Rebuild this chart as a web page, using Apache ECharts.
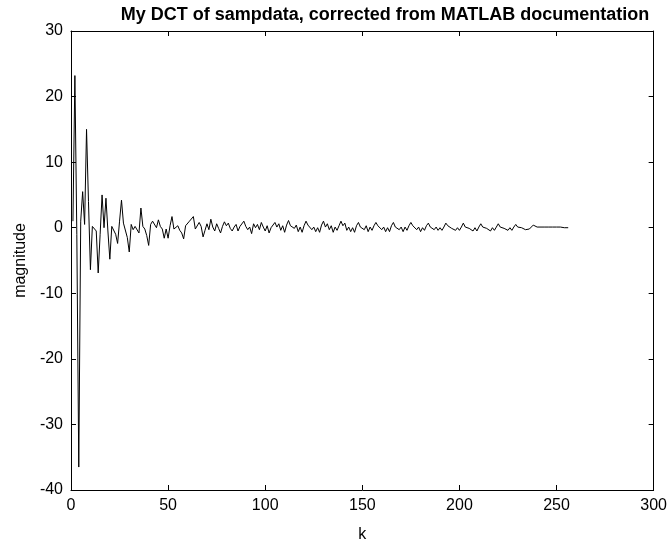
<!DOCTYPE html>
<html>
<head>
<meta charset="utf-8">
<script src="https://cdn.jsdelivr.net/npm/echarts@6/dist/echarts.min.js"></script>
<style>html,body{margin:0;padding:0;background:#fff}#c{width:670px;height:548px}</style>
</head>
<body>
<div id="c"></div>
<script>
const titleText = "My DCT of sampdata, corrected from MATLAB documentation";
const xLabel = "k";
const yLabel = "magnitude";
const xTicks = [0, 50, 100, 150, 200, 250, 300];
const yTicks = [-40, -30, -20, -10, 0, 10, 20, 30];
// magnitude values for k = 1..256
const mag1 = [1.0, 23.2, -1.0, -36.5, 1.0, 5.5, 0.5, 15.0, 4.0, -6.4, 0.2, 0.3, -0.5, -6.9, -1.0, 5.0, 0.0, 4.5, -0.5, -4.8,
  0.2, -0.1, -1.0, -2.4, 1.0, 4.2, 0.7, 1.0, -1.5, -3.7, 0.5, -0.3, 0.2, 0.5, -0.8, 3.0, 0.2, -0.2, -1.2, -2.7,
  0.5, 1.0, 1.3, 0.0, 1.2, 0.2, -0.2, -1.6, -0.2, -1.6, 0.3, 1.7, -0.2, 0.1, 0.3, -0.4, -0.8, -1.7, 0.3, 0.5,
  1.0, 0.8, 1.7, -0.2, -0.5];
const mag2 = [0.8, 0.2, -1.4, -0.4, 0.6, -0.3, 1.3, 0.1, -0.5, 0.6, -0.1, -0.8, 0.2, 0.9, 0.3, 0.7, -0.1, -0.5, 0.1, 0.5,
  -0.5, 0.2, 0.5, 1.0, 0.2, -0.3, 0.1, -0.9, 0.6, 0.0, 0.5, -0.3, 0.8, 0.1, -0.5];
const mag3 = [0.3, -0.8, 0.0, 0.3, 0.8, 0.1, 0.6, -0.4, 0.3, -0.7, 0.4, 1.1, 0.3, 0.6, -0.1, 0.4, -0.6, 0.1, -0.7, 0.3,
  1.0, 0.4, 0.7, -0.3, 0.1, -0.6, 0.0, -0.7, 0.4, 1.0, 0.1, 0.6, -0.3, 0.3, -0.7, 0.1, -0.4, 0.3, 1.0, 0.3,
  0.7, -0.4, 0.1, -0.6, 0.0, -0.7, 0.3, 0.8, 0.1, 0.4];
const mag4 = [-0.3, 0.3, -0.6, 0.1, -0.4, 0.3, 0.8, 0.3, 0.6, -0.3, 0.1, -0.6, 0.0, -0.6, 0.3, 0.8, 0.1, 0.4, -0.3, 0.1,
  -0.6, 0.1, -0.4, 0.3, 0.8, 0.3, 0.6, -0.3, 0.1, -0.6, 0.0, -0.4, 0.3, 0.7, 0.1, 0.4, -0.3, 0.1, -0.4, 0.0,
  -0.4, 0.1, 0.7, 0.3, 0.4, -0.1, 0.1, -0.4, 0.0, -0.4];
const mag5 = [0.1, 0.7, 0.1, 0.4, -0.1, 0.1, -0.5, 0.0, -0.5, 0.1, 0.6, 0.1, 0.4, -0.1, 0.1, -0.5, 0.0, -0.4, 0.1, 0.6,
  0.1, 0.3, -0.1, 0.1, -0.4, 0.0, -0.4, 0.1, 0.5, 0.1, 0.3, 0.0, 0.1, -0.3, 0.0, -0.2, 0.1, 0.4, 0.1, 0.1,
  0.0, 0.1, -0.1, 0.1, 0.0, 0.1, 0.2, 0.1, 0.0, 0.1, 0.0, 0.1, 0.1, 0.0, 0.1, 0.0];
const magnitude = [].concat(mag1, mag2, mag3, mag4, mag5);
const kValues = magnitude.map((_, i) => i + 1);

const font = "'Liberation Sans', Arial, Helvetica, sans-serif";
const chart = echarts.init(document.getElementById('c'), null, {renderer: 'canvas'});
const xBase = {
  type: 'value', min: xTicks[0], max: xTicks[xTicks.length - 1], interval: 50,
  axisLine: {show: true, onZero: false, lineStyle: {color: '#000', width: 1}},
  axisTick: {show: true, inside: true, length: 5, lineStyle: {color: '#000'}},
  splitLine: {show: false}
};
const yBase = {
  type: 'value', min: yTicks[0], max: yTicks[yTicks.length - 1], interval: 10,
  axisLine: {show: true, onZero: false, lineStyle: {color: '#000', width: 1}},
  axisTick: {show: true, inside: true, length: 5, lineStyle: {color: '#000'}},
  splitLine: {show: false}
};
chart.setOption({
  animation: false,
  backgroundColor: '#fff',
  title: {
    text: titleText, left: 380, top: 1, textAlign: 'center',
    textStyle: {fontFamily: font, fontSize: 18, fontWeight: 'bold', color: '#000'}
  },
  grid: {left: 71, right: 14, top: 31, bottom: 57, containLabel: false},
  xAxis: [
    Object.assign({}, xBase, {
      position: 'bottom', name: xLabel, nameLocation: 'middle', nameGap: 37,
      nameTextStyle: {fontFamily: font, fontSize: 16, color: '#000'},
      axisLabel: {fontFamily: font, fontSize: 16, color: '#000', margin: 8}
    }),
    Object.assign({}, xBase, {position: 'top', axisLabel: {show: false}})
  ],
  yAxis: [
    Object.assign({}, yBase, {
      position: 'left', name: yLabel, nameLocation: 'middle', nameGap: 41,
      nameTextStyle: {fontFamily: font, fontSize: 16, color: '#000'},
      axisLabel: {fontFamily: font, fontSize: 16, color: '#000', margin: 8}
    }),
    Object.assign({}, yBase, {position: 'right', axisLabel: {show: false}})
  ],
  series: [{
    type: 'line', xAxisIndex: 0, yAxisIndex: 0,
    data: kValues.map((k, i) => [k, magnitude[i]]),
    showSymbol: false, symbol: 'none',
    lineStyle: {color: '#000', width: 1},
    itemStyle: {color: '#000'}
  }]
});
</script>
</body>
</html>
